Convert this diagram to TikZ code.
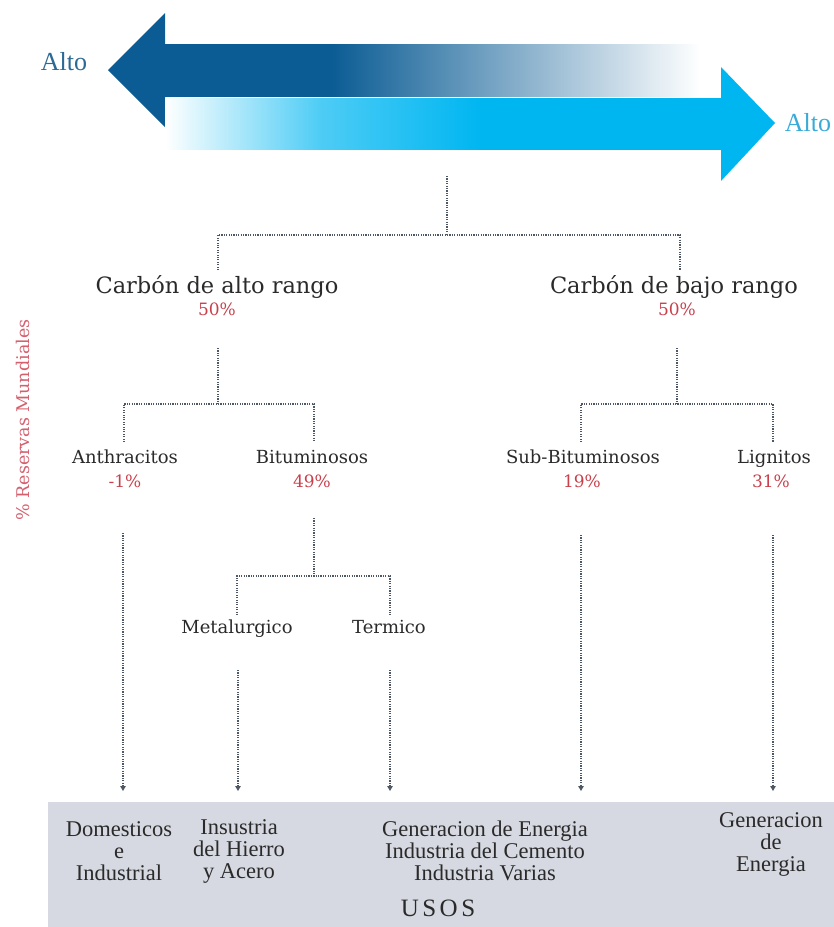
\documentclass[tikz,border=0pt]{standalone}
\usepackage{fontspec}
\setmainfont{DejaVu Serif}
\newfontfamily\timesf{Liberation Serif}
\newfontfamily\usosf[LetterSpace=14]{Liberation Serif}
\usetikzlibrary{arrows.meta}
\definecolor{darkblue}{HTML}{0B5C94}
\definecolor{cyanb}{HTML}{00B6F1}
\definecolor{cyanmid}{HTML}{4DCCF5}
\definecolor{linegray}{HTML}{4E5864}
\definecolor{pctred}{HTML}{C8404C}
\definecolor{vred}{HTML}{D4606E}
\definecolor{boxgray}{HTML}{D6D9E1}
\definecolor{txt}{HTML}{2A2A2A}
\definecolor{altodark}{HTML}{2B6A95}
\definecolor{altolight}{HTML}{3AAAD8}
\pgfdeclarehorizontalshading{darkshade}{100bp}{color(0bp)=(darkblue); color(25bp)=(darkblue); color(40.7bp)=(darkblue); color(75bp)=(white); color(100bp)=(white)}
\pgfdeclarehorizontalshading{cyanshade}{100bp}{color(0bp)=(white); color(25bp)=(white); color(39bp)=(cyanmid); color(53.3bp)=(cyanb); color(100bp)=(cyanb)}
\tikzset{
  dotline/.style={draw=linegray, line width=1.1pt, dash pattern=on 1.1pt off 1.3pt},
  dotarrow/.style={dotline, -{Triangle[width=5.5pt,length=5pt]}},
  bigtxt/.style={font=\fontsize{22.5}{26}\selectfont, text=txt, inner sep=0pt, anchor=base},
  midtxt/.style={font=\fontsize{18}{21}\selectfont, text=txt, inner sep=0pt, anchor=base},
  pct/.style={font=\fontsize{17}{20}\selectfont, text=pctred, inner sep=0pt, anchor=base},
  usetxt/.style={font=\timesf\fontsize{22.5}{22}\selectfont, text=txt, align=center, inner sep=0pt},
  altotxt/.style={font=\timesf\fontsize{26}{28}\selectfont, inner sep=0pt},
}
\begin{document}
\begin{tikzpicture}[x=1pt,y=-1pt]
\useasboundingbox (0,0) rectangle (834,927);

% ---- top double arrow ----
\fill[darkblue] (108,70) -- (165,13) -- (165,127) -- cycle;
\shade[shading=darkshade] (163,44) rectangle (700,96.5);
\shade[shading=cyanshade] (165,98) rectangle (722,149);
\fill[cyanb] (721,67) -- (775,123) -- (721,181) -- cycle;
\node[altotxt, text=altodark] (altoL) at (64,62) {Alto};
\node[altotxt, text=altolight] (altoR) at (808,123) {Alto};

% ---- vertical label ----
\node[rotate=90, font=\fontsize{17.5}{20}\selectfont, text=vred, inner sep=0pt] (res) at (23,420) {\% Reservas Mundiales};

% ---- level 1 ----
\node[bigtxt] (alto) at (217,293) {Carbón de alto rango};
\node[pct] (altop) at (217,315) {50\%};
\node[bigtxt] (bajo) at (674,293) {Carbón de bajo rango};
\node[pct] (bajop) at (677,315) {50\%};

% ---- level 2 ----
\node[midtxt] (anth) at (125,463) {Anthracitos};
\node[pct] (anthp) at (125,487) {-1\%};
\node[midtxt] (bitu) at (312,463) {Bituminosos};
\node[pct] (bitup) at (312,487) {49\%};
\node[midtxt] (subb) at (583,463) {Sub-Bituminosos};
\node[pct] (subbp) at (582,487) {19\%};
\node[midtxt] (lign) at (774,463) {Lignitos};
\node[pct] (lignp) at (771,487) {31\%};

% ---- level 3 ----
\node[midtxt] (meta) at (237,633) {Metalurgico};
\node[midtxt] (term) at (389,633) {Termico};

% ---- connector coordinates ----
\coordinate (t0) at (447,176);
\coordinate (t1) at (447,235);
\coordinate (a0) at (218,270);
\coordinate (b0) at (680,270);
\coordinate (a1) at (218,348);
\coordinate (a2) at (218,404);
\coordinate (an0) at (124,442);
\coordinate (bi0) at (314,442);
\coordinate (b1) at (677,348);
\coordinate (b2) at (677,404);
\coordinate (sb0) at (581,442);
\coordinate (lg0) at (773,442);
\coordinate (bi1) at (314,518);
\coordinate (bi2) at (314,576);
\coordinate (me0) at (237,615);
\coordinate (te0) at (390,615);

\draw[dotline] (t0) -- (t1);
\draw[dotline] (a0) |- (t1) -| (b0);
\draw[dotline] (a1) -- (a2);
\draw[dotline] (an0) |- (a2) -| (bi0);
\draw[dotline] (b1) -- (b2);
\draw[dotline] (sb0) |- (b2) -| (lg0);
\draw[dotline] (bi1) -- (bi2);
\draw[dotline] (me0) |- (bi2) -| (te0);

% ---- USOS box ----
\node[fill=boxgray, minimum width=786, minimum height=125, anchor=north west, inner sep=0pt] (box) at (48,802) {};

\coordinate (an1) at (123,533);  \coordinate (an2) at (123,791);
\coordinate (me1) at (238,670);  \coordinate (me2) at (238,791);
\coordinate (te1) at (390,670);  \coordinate (te2) at (390,791);
\coordinate (sb1) at (581,535);  \coordinate (sb2) at (581,791);
\coordinate (lg1) at (773,535);  \coordinate (lg2) at (773,791);
\draw[dotarrow] (an1) -- (an2);
\draw[dotarrow] (me1) -- (me2);
\draw[dotarrow] (te1) -- (te2);
\draw[dotarrow] (sb1) -- (sb2);
\draw[dotarrow] (lg1) -- (lg2);

\node[usetxt] (u1) at (119,851) {Domesticos\\e\\Industrial};
\node[usetxt] (u2) at (239,851) {Insustria\\del Hierro\\y Acero};
\node[usetxt] (u3) at (485,851) {Generacion de Energia\\Industria del Cemento\\Industria Varias};
\node[usetxt] (u4) at (771,844) {Generacion\\de\\Energia};
\node[font=\usosf\fontsize{25}{28}\selectfont, text=txt, inner sep=0pt] (usos) at (438,908) {USOS};
\end{tikzpicture}
\end{document}
